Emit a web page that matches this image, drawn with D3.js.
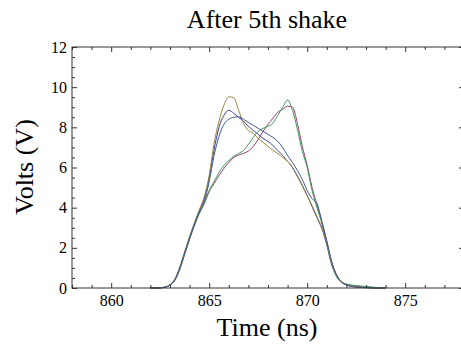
<!DOCTYPE html>
<html>
<head>
<meta charset="utf-8">
<script src="https://cdn.jsdelivr.net/npm/d3@7"></script>
<style>
  body { margin: 0; background: #fff; }
  svg { display: block; }
  text { font-family: "Liberation Serif", "Times New Roman", serif; fill: #000; }
</style>
</head>
<body>
<svg width="461" height="351"></svg>
<script>
// time samples (ns), shared by all traces
var times = d3.range(862, 874.001, 0.25);

// five scope traces, volts
var trace1 = [0,0,0.01,0.04,0.16,0.43,1.0,1.78,2.52,3.22,3.85,4.45,5.5,6.9,8.0,8.6,8.85,8.7,8.5,8.3,8.05,7.85,7.65,7.45,7.3,7.1,6.85,6.6,6.3,6.0,5.55,5.1,4.6,4.05,3.5,2.95,2.15,1.15,0.6,0.28,0.15,0.08,0.05,0.03,0.02,0.01,0,0,0];
var trace2 = [0,0,0.01,0.04,0.14,0.38,0.92,1.68,2.42,3.12,3.72,4.2,4.8,5.2,5.6,5.95,6.25,6.5,6.62,6.7,6.82,7.05,7.4,7.8,8.15,8.45,8.75,8.9,9.05,9.0,8.2,7.05,6.1,5.0,4.15,3.3,2.35,1.3,0.65,0.3,0.18,0.12,0.08,0.05,0.03,0.02,0.01,0,0];
var trace3 = [0,0,0.01,0.04,0.15,0.4,0.95,1.7,2.45,3.15,3.75,4.25,4.85,5.3,5.75,6.1,6.35,6.55,6.7,6.85,7.15,7.5,7.8,7.95,8.05,8.2,8.6,9.0,9.36,8.85,7.9,6.8,6.0,4.85,4.0,3.2,2.2,1.2,0.55,0.3,0.2,0.15,0.12,0.1,0.08,0.05,0.03,0.01,0];
var trace4 = [0,0,0.01,0.05,0.17,0.45,1.05,1.8,2.55,3.25,3.9,4.55,5.6,7.2,8.3,9.1,9.52,9.48,8.85,8.2,7.85,7.7,7.45,7.25,7.05,6.85,6.7,6.5,6.3,6.0,5.6,5.1,4.6,4.1,3.55,3.0,2.2,1.2,0.65,0.3,0.17,0.1,0.06,0.04,0.02,0.01,0,0,0];
var trace5 = [0,0,0.01,0.04,0.15,0.42,1.0,1.75,2.5,3.2,3.8,4.3,5.3,6.6,7.55,8.15,8.4,8.5,8.52,8.4,8.25,8.1,7.95,7.8,7.65,7.5,7.3,7.0,6.6,6.25,5.85,5.4,4.85,4.45,4.2,3.3,2.3,1.3,0.65,0.3,0.16,0.09,0.05,0.03,0.02,0.01,0,0,0];

var traces = [trace1, trace2, trace3, trace4, trace5];
var colors = ["#3f3d99", "#993d71", "#3d9956", "#99843d", "#3d5a99"];

var xMajor = [860, 865, 870, 875];
var yMajor = [0, 2, 4, 6, 8, 10, 12];

var pLeft = 72, pRight = 464, pTop = 47, pBottom = 288;
var serif = '"Liberation Serif", "Times New Roman", serif';

var svg = d3.select("svg");

var x = d3.scaleLinear().domain([858, 878]).range([pLeft, pRight]);
var y = d3.scaleLinear().domain([0, 12]).range([pBottom, pTop]);

// lines
var line = d3.line()
    .x(function(d) { return x(d[0]); })
    .y(function(d) { return y(d[1]); })
    .curve(d3.curveMonotoneX);

traces.forEach(function(tr, i) {
  svg.append("path")
      .datum(times.map(function(t, j) { return [t, tr[j]]; }))
      .attr("fill", "none")
      .attr("stroke", colors[i])
      .attr("stroke-width", 1)
      .attr("d", line);
});

// frame
svg.append("rect")
    .attr("x", pLeft).attr("y", pTop)
    .attr("width", pRight - pLeft).attr("height", pBottom - pTop)
    .attr("fill", "none").attr("stroke", "#333").attr("stroke-width", 1);

var xMinor = d3.range(858, 879, 1).filter(function(v) { return xMajor.indexOf(v) < 0; });
var yMinor = d3.range(0, 12.01, 0.5).filter(function(v) { return v % 2 !== 0; });

function styleAxis(g) {
  g.attr("font-size", 16).attr("font-family", serif);
  g.select(".domain").remove();
  g.selectAll("line").attr("stroke", "#333");
  g.selectAll("text").attr("fill", "#000")
      .style("font-family", serif).style("font-size", "16px");
}

// bottom
svg.append("g").attr("transform", "translate(0," + pBottom + ")")
    .call(d3.axisBottom(x).tickValues(xMajor).tickFormat(d3.format("d")).tickSizeInner(-5).tickSizeOuter(0).tickPadding(7))
    .call(styleAxis);
svg.append("g").attr("transform", "translate(0," + pBottom + ")")
    .call(d3.axisBottom(x).tickValues(xMinor).tickFormat("").tickSizeInner(-3).tickSizeOuter(0))
    .call(styleAxis);
// top
svg.append("g").attr("transform", "translate(0," + pTop + ")")
    .call(d3.axisTop(x).tickValues(xMajor).tickFormat("").tickSizeInner(-5).tickSizeOuter(0))
    .call(styleAxis);
svg.append("g").attr("transform", "translate(0," + pTop + ")")
    .call(d3.axisTop(x).tickValues(xMinor).tickFormat("").tickSizeInner(-3).tickSizeOuter(0))
    .call(styleAxis);
// left
svg.append("g").attr("transform", "translate(" + pLeft + ",0)")
    .call(d3.axisLeft(y).tickValues(yMajor).tickFormat(d3.format("d")).tickSizeInner(-5).tickSizeOuter(0).tickPadding(5))
    .call(styleAxis);
svg.append("g").attr("transform", "translate(" + pLeft + ",0)")
    .call(d3.axisLeft(y).tickValues(yMinor).tickFormat("").tickSizeInner(-3).tickSizeOuter(0))
    .call(styleAxis);
// right
svg.append("g").attr("transform", "translate(" + pRight + ",0)")
    .call(d3.axisRight(y).tickValues(yMajor).tickFormat("").tickSizeInner(-5).tickSizeOuter(0))
    .call(styleAxis);
svg.append("g").attr("transform", "translate(" + pRight + ",0)")
    .call(d3.axisRight(y).tickValues(yMinor).tickFormat("").tickSizeInner(-3).tickSizeOuter(0))
    .call(styleAxis);

// labels
svg.append("text")
    .attr("x", 267).attr("y", 28)
    .attr("text-anchor", "middle").attr("font-size", 26)
    .text("After 5th shake");

svg.append("text")
    .attr("x", 267).attr("y", 336)
    .attr("text-anchor", "middle").attr("font-size", 26)
    .text("Time (ns)");

svg.append("text")
    .attr("transform", "translate(33,167) rotate(-90)")
    .attr("text-anchor", "middle").attr("font-size", 26)
    .text("Volts (V)");
</script>
</body>
</html>
